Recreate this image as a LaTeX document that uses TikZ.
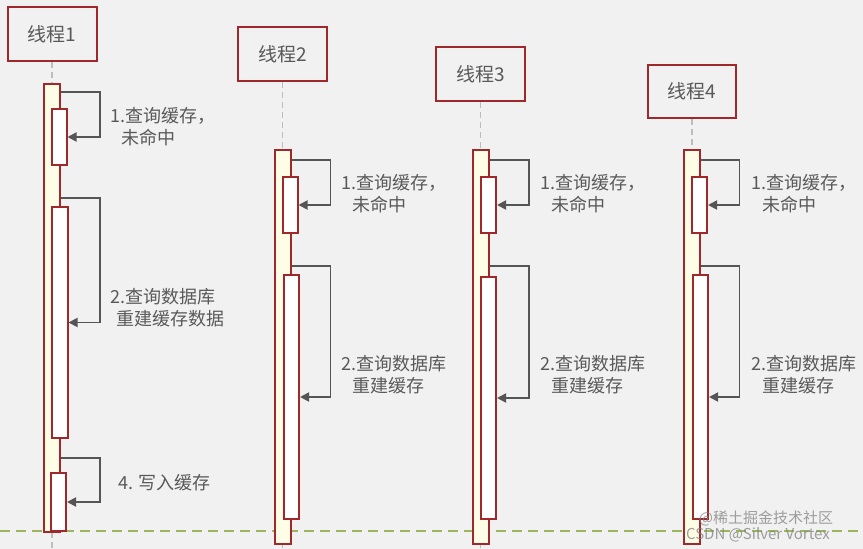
\documentclass[tikz,border=0pt]{standalone}
\usepackage{fontspec}
\newfontfamily\cjk{Noto Sans CJK SC}
\usetikzlibrary{arrows.meta}
\definecolor{boxred}{HTML}{A0282A}
\definecolor{barfill}{HTML}{FFFDE6}
\definecolor{callgray}{HTML}{555555}
\definecolor{textgray}{HTML}{595959}
\definecolor{lifegray}{HTML}{BDBDBD}
\definecolor{guidegreen}{HTML}{9CB65E}
\definecolor{bggray}{HTML}{F1F1F1}

\begin{document}
\begin{tikzpicture}[x=1pt,y=-1pt,
thread/.style={draw=boxred, line width=2pt, minimum width=89pt, minimum height=54pt, inner sep=0pt, font=\cjk\fontsize{19}{22}\selectfont, text=textgray},
actbar/.style={draw=boxred, line width=2pt, fill=barfill, minimum width=16pt, anchor=north, inner sep=0pt},
subbar/.style={draw=boxred, line width=2pt, fill=white, minimum width=15pt, anchor=north, inner sep=0pt},
life/.style={lifegray, line width=1.6pt, dash pattern=on 6pt off 4pt},
guide/.style={guidegreen, line width=1.6pt, dash pattern=on 10pt off 6pt},
call/.style={callgray, line width=1.8pt, -{Triangle[length=9pt,width=9pt]}},
note/.style={anchor=west, align=left, inner sep=0pt, font=\cjk\fontsize{18}{22}\selectfont, text=textgray},
wmark/.style={inner sep=0pt, font=\cjk\fontsize{15}{17}\selectfont, text=gray, opacity=0.75}]
\fill[bggray] (0,0) rectangle (863,549);
\useasboundingbox (0,0) rectangle (863,549);
\coordinate (bot) at (0,549);
\coordinate (gl) at (0,531);
\coordinate (gr) at (863,531);

% threads
\node[thread] (t1) at (52,34) {线程1};
\node[thread] (t2) at (282.5,54) {线程2};
\node[thread] (t3) at (480.5,74) {线程3};
\node[thread, minimum width=88pt, minimum height=53pt] (t4) at (692,91.5) {线程4};
\draw[life] (t1.south) -- (t1.south |- bot);
\draw[life] (t2.south) -- (t2.south |- bot);
\draw[life] (t3.south) -- (t3.south |- bot);
\draw[life] (t4.south) -- (t4.south |- bot);
\draw[guide] (gl) -- (gr);

% activation bars
\node[actbar, minimum height=448pt] (o1) at (52,83) {};
\node[subbar, minimum height=56pt] (i1a) at (59,108) {};
\node[subbar, minimum width=16pt, minimum height=231pt] (i1b) at (59.5,206) {};
\node[subbar, minimum height=58pt] (i1c) at (58.5,472) {};
\node[actbar, minimum height=394pt] (o2) at (282.5,149) {};
\node[subbar, minimum height=56pt] (i2a) at (290,176) {};
\node[subbar, minimum height=244pt] (i2b) at (291.5,274) {};
\node[actbar, minimum height=394pt] (o3) at (481,149) {};
\node[subbar, minimum height=56pt] (i3a) at (488.5,176) {};
\node[subbar, minimum height=242pt] (i3b) at (488.5,276) {};
\node[actbar, minimum height=394pt] (o4) at (691.5,149) {};
\node[subbar, minimum height=56pt] (i4a) at (699.5,176) {};
\node[subbar, minimum height=244pt] (i4b) at (700.5,274) {};

% self calls
\draw[call] ([yshift=-9pt]o1.north east) -- ++(39,0) |- (i1a.east);
\draw[call] ([yshift=-115pt]o1.north east) -- ++(39,0) |- (i1b.east);
\draw[call] ([yshift=-375pt]o1.north east) -- ++(39,0) |- (i1c.east);
\draw[call] ([yshift=-11pt]o2.north east) -- ++(39,0) |- (i2a.east);
\draw[call] ([yshift=-117pt]o2.north east) -- ++(39,0) |- (i2b.east);
\draw[call] ([yshift=-11pt]o3.north east) -- ++(39,0) |- (i3a.east);
\draw[call] ([yshift=-117pt]o3.north east) -- ++(39,0) |- (i3b.east);
\draw[call] ([yshift=-11pt]o4.north east) -- ++(39,0) |- (i4a.east);
\draw[call] ([yshift=-117pt]o4.north east) -- ++(39,0) |- (i4b.east);

% labels
\node[note] (n1a) at (110,127) {1.查询缓存，\\\hspace{0.6em}未命中};
\node[note] (n1b) at (110,308) {2.查询数据库\\\hspace{0.35em}重建缓存数据};
\node[note] (n1c) at (118,483) {4. 写入缓存};
\node[note] (n2a) at (341,194) {1.查询缓存，\\\hspace{0.6em}未命中};
\node[note] (n2b) at (341,375) {2.查询数据库\\\hspace{0.6em}重建缓存};
\node[note] (n3a) at (540,194) {1.查询缓存，\\\hspace{0.6em}未命中};
\node[note] (n3b) at (540,375) {2.查询数据库\\\hspace{0.6em}重建缓存};
\node[note] (n4a) at (751,194) {1.查询缓存，\\\hspace{0.6em}未命中};
\node[note] (n4b) at (751,375) {2.查询数据库\\\hspace{0.6em}重建缓存};

% watermark
\node[wmark] (w1) at (766,518) {@稀土掘金技术社区};
\node[wmark] (w2) at (758,535) {CSDN @Silver Vortex};
\end{tikzpicture}
\end{document}
